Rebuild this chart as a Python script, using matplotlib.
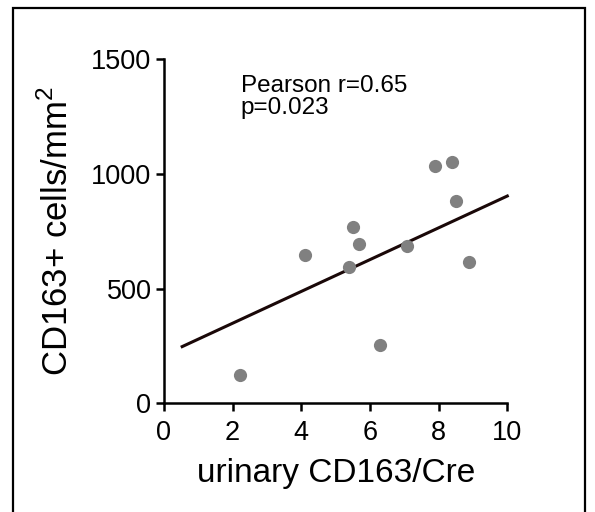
import matplotlib as mpl
import matplotlib.pyplot as plt
from matplotlib.patches import Rectangle

# values
urinary_cd163 = [2.21, 4.10, 5.39, 5.51, 5.69, 6.30, 7.09, 7.90, 8.39, 8.50, 8.88]
cells_per_mm2 = [122, 646, 595, 769, 695, 255, 685, 1033, 1051, 881, 617]

# regression line ends
fit_x = [0.53, 10.0]
fit_y = [247, 903]

x_ticks = [0, 2, 4, 6, 8, 10]
y_ticks = [0, 500, 1000, 1500]
stats_lines = ["Pearson r=0.65", "p=0.023"]

mpl.rcParams["font.family"] = ["Liberation Sans", "DejaVu Sans"]
mpl.rcParams["mathtext.fontset"] = "custom"
mpl.rcParams["mathtext.rm"] = "Liberation Sans"

fig = plt.figure(figsize=(5.95, 5.12), dpi=100)
ax = fig.add_axes([0.2756, 0.2123, 0.577, 0.6725])

# outer frame
fig.patches.append(Rectangle((12.7 / 595, -0.05), (585 - 12.7) / 595, 1.05 - 7.5 / 512,
                             transform=fig.transFigure, fill=False,
                             edgecolor="black", linewidth=1.6))

ax.plot(fit_x, fit_y, color="#1a0808", linewidth=2.2, clip_on=False, zorder=2)
ax.plot(urinary_cd163, cells_per_mm2, "o", color="#808080", markersize=9.5,
        markeredgewidth=0, clip_on=False, zorder=3)

ax.set_xlim(0, 10)
ax.set_ylim(0, 1500)
ax.set_xticks(x_ticks)
ax.set_yticks(y_ticks)
ax.tick_params(axis="both", direction="out", length=6, width=1.8,
               labelsize=19.5)
ax.tick_params(axis="y", pad=3)
ax.tick_params(axis="x", pad=6)
for side in ["top", "right"]:
    ax.spines[side].set_visible(False)
for side in ["left", "bottom"]:
    ax.spines[side].set_linewidth(1.8)

ax.set_xlabel("urinary CD163/Cre", fontsize=24, labelpad=9)
ax.set_ylabel("CD163+ cells/mm$^2$", fontsize=25, labelpad=12)

ax.text(240.7 / 595, 1 - 92 / 512, stats_lines[0], transform=fig.transFigure,
        fontsize=17.5, va="baseline", ha="left")
ax.text(240.7 / 595, 1 - 114 / 512, stats_lines[1], transform=fig.transFigure,
        fontsize=17.5, va="baseline", ha="left")

fig.savefig("out.png", dpi=100)
